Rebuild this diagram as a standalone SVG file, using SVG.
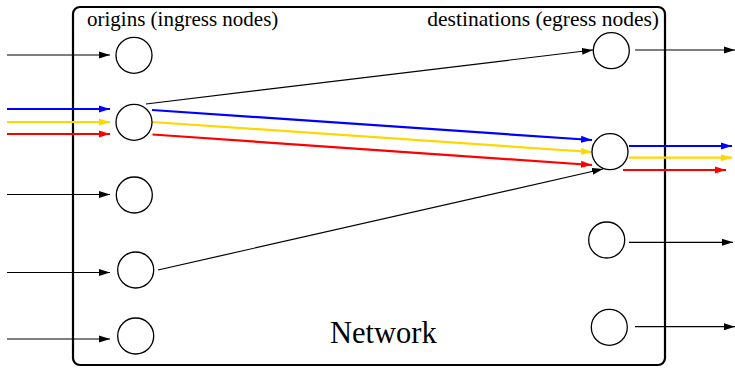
<svg xmlns="http://www.w3.org/2000/svg" width="735" height="368" viewBox="0 0 735 368">
<style>
.node{fill:#fff;stroke:#000;stroke-width:1.3}
.lbl{font-family:"Liberation Serif","Times New Roman",serif;fill:#000}
.k{stroke:#000;stroke-width:1.2;fill:none}
.b{stroke:#0000ff;stroke-width:2.2;fill:none}
.y{stroke:#ffd700;stroke-width:2.2;fill:none}
.r{stroke:#ff0000;stroke-width:2.2;fill:none}
</style>
<defs>
<marker id="ak" markerUnits="userSpaceOnUse" markerWidth="11" markerHeight="8" refX="11" refY="4" orient="auto"><path d="M0,0.5 L11,4 L0,7.5 z" fill="#000"/></marker>
<marker id="ab" markerUnits="userSpaceOnUse" markerWidth="11" markerHeight="8" refX="11" refY="4" orient="auto"><path d="M0,0.5 L11,4 L0,7.5 z" fill="#0000ff"/></marker>
<marker id="ay" markerUnits="userSpaceOnUse" markerWidth="11" markerHeight="8" refX="11" refY="4" orient="auto"><path d="M0,0.5 L11,4 L0,7.5 z" fill="#ffd700"/></marker>
<marker id="ar" markerUnits="userSpaceOnUse" markerWidth="11" markerHeight="8" refX="11" refY="4" orient="auto"><path d="M0,0.5 L11,4 L0,7.5 z" fill="#ff0000"/></marker>
</defs>
<g id="network">
<rect x="73" y="7" width="592" height="358" rx="7" ry="7" fill="none" stroke="#000" stroke-width="2.2"/>
<text class="lbl" x="87" y="26" font-size="21">origins (ingress nodes)</text>
<text class="lbl" x="659" y="26" font-size="21.5" text-anchor="end">destinations (egress nodes)</text>
<text class="lbl" x="330" y="343" font-size="30.5">Network</text>
</g>
<g id="connectors">
<line class="k" x1="7" y1="55" x2="110" y2="55" marker-end="url(#ak)"/>
<line class="b" x1="7" y1="109" x2="110" y2="109" marker-end="url(#ab)"/>
<line class="y" x1="7" y1="122" x2="110" y2="122" marker-end="url(#ay)"/>
<line class="r" x1="7" y1="134" x2="110" y2="134" marker-end="url(#ar)"/>
<line class="k" x1="7" y1="194.5" x2="110" y2="194.5" marker-end="url(#ak)"/>
<line class="k" x1="7" y1="272.5" x2="110" y2="272.5" marker-end="url(#ak)"/>
<line class="k" x1="7" y1="339" x2="110" y2="339" marker-end="url(#ak)"/>
<line class="k" x1="146" y1="104" x2="593" y2="50" marker-end="url(#ak)"/>
<line class="b" x1="152" y1="110" x2="592" y2="140" marker-end="url(#ab)"/>
<line class="y" x1="152" y1="122" x2="592" y2="152" marker-end="url(#ay)"/>
<line class="r" x1="152.5" y1="134.5" x2="592" y2="165" marker-end="url(#ar)"/>
<line class="k" x1="158" y1="270" x2="603" y2="169" marker-end="url(#ak)"/>
<line class="k" x1="635" y1="50" x2="735" y2="50" marker-end="url(#ak)"/>
<line class="b" x1="629" y1="146" x2="732" y2="146" marker-end="url(#ab)"/>
<line class="y" x1="629" y1="157.7" x2="732" y2="157.7" marker-end="url(#ay)"/>
<line class="r" x1="623" y1="170" x2="726" y2="170" marker-end="url(#ar)"/>
<line class="k" x1="629" y1="242.3" x2="733" y2="242.3" marker-end="url(#ak)"/>
<line class="k" x1="635" y1="326.7" x2="735" y2="326.7" marker-end="url(#ak)"/>
</g>
<g id="o1"><circle class="node" cx="134" cy="55.3" r="18"/></g>
<g id="o2"><circle class="node" cx="134" cy="122.3" r="18"/></g>
<g id="o3"><circle class="node" cx="134.3" cy="195" r="18"/></g>
<g id="o4"><circle class="node" cx="135.7" cy="270" r="18"/></g>
<g id="o5"><circle class="node" cx="135.7" cy="336" r="18"/></g>
<g id="d1"><circle class="node" cx="611.3" cy="50.7" r="18"/></g>
<g id="d2"><circle class="node" cx="610" cy="151.7" r="18"/></g>
<g id="d3"><circle class="node" cx="606.7" cy="240" r="18"/></g>
<g id="d4"><circle class="node" cx="609.3" cy="327.3" r="18"/></g>
</svg>
